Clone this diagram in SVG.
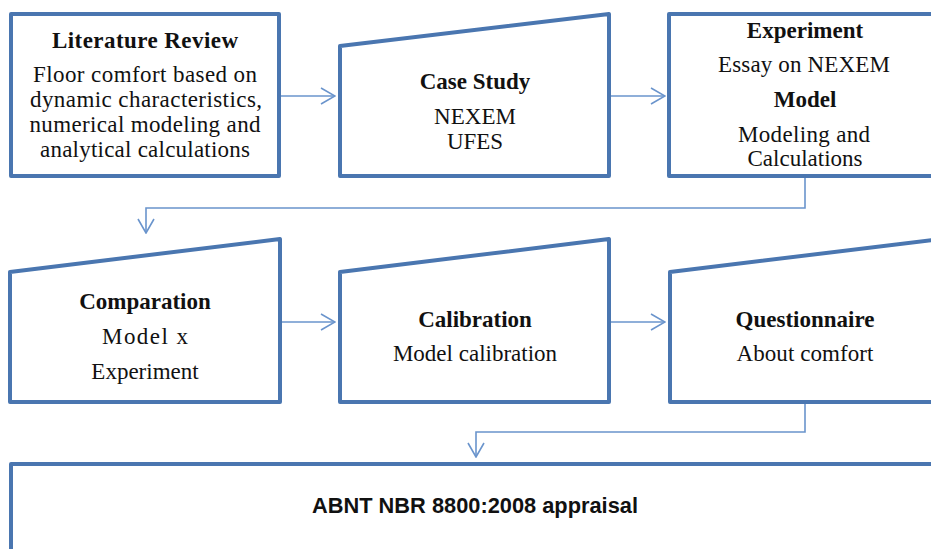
<svg xmlns="http://www.w3.org/2000/svg" width="931" height="549" viewBox="0 0 931 549">
  <style>
    .box { fill: #ffffff; stroke: #4a76b0; stroke-width: 4; stroke-linejoin: round; }
    .link { fill: none; stroke: #6a94cc; stroke-width: 1.6; }
    .t { font-family: "Liberation Serif", "Times New Roman", serif; font-size: 23px; fill: #111111; text-anchor: middle; }
    .b { font-weight: bold; }
    .s { font-family: "Liberation Sans", Arial, sans-serif; font-size: 21.5px; font-weight: bold; fill: #111111; text-anchor: middle; }
  </style>
  <defs>
    <marker id="chev" viewBox="0 0 16 18" refX="15" refY="9" markerWidth="16" markerHeight="18" markerUnits="userSpaceOnUse" orient="auto">
      <path d="M1,1 L15,9 L1,17" fill="none" stroke="#6a94cc" stroke-width="1.6"/>
    </marker>
  </defs>
  <rect width="931" height="549" fill="#ffffff"/>

  <g id="connectors">
    <line class="link" x1="281" y1="96" x2="335" y2="96" marker-end="url(#chev)"/>
    <line class="link" x1="611" y1="96" x2="665" y2="96" marker-end="url(#chev)"/>
    <polyline class="link" points="805,178 805,208 146,208 146,233" marker-end="url(#chev)"/>
    <line class="link" x1="281" y1="322" x2="335" y2="322" marker-end="url(#chev)"/>
    <line class="link" x1="611" y1="322" x2="665" y2="322" marker-end="url(#chev)"/>
    <polyline class="link" points="805,404 805,432 476,432 476,457" marker-end="url(#chev)"/>
  </g>

  <g id="literature-review">
    <rect class="box" x="11" y="14" width="268" height="162"/>
    <text class="t b" x="145" y="48" textLength="186" lengthAdjust="spacing">Literature Review</text>
    <text class="t" x="145" y="82" textLength="224" lengthAdjust="spacing">Floor comfort based on</text>
    <text class="t" x="146" y="107" textLength="232" lengthAdjust="spacing">dynamic characteristics,</text>
    <text class="t" x="145" y="132" textLength="231" lengthAdjust="spacing">numerical modeling and</text>
    <text class="t" x="145" y="157" textLength="210" lengthAdjust="spacing">analytical calculations</text>
  </g>

  <g id="case-study">
    <polygon class="box" points="340,46 609,14 609,176 340,176"/>
    <text class="t b" x="475" y="89">Case Study</text>
    <text class="t" x="475" y="124">NEXEM</text>
    <text class="t" x="475" y="149">UFES</text>
  </g>

  <g id="experiment-model">
    <rect class="box" x="669" y="14" width="272" height="162"/>
    <text class="t b" x="805" y="38">Experiment</text>
    <text class="t" x="804" y="72" textLength="172" lengthAdjust="spacing">Essay on NEXEM</text>
    <text class="t b" x="805" y="107">Model</text>
    <text class="t" x="804" y="142" textLength="132" lengthAdjust="spacing">Modeling and</text>
    <text class="t" x="805" y="166">Calculations</text>
  </g>

  <g id="comparation">
    <polygon class="box" points="10,272 280,239 280,402 10,402"/>
    <text class="t b" x="145" y="309">Comparation</text>
    <text class="t" x="145" y="344" textLength="86" lengthAdjust="spacing">Model  x</text>
    <text class="t" x="145" y="379">Experiment</text>
  </g>

  <g id="calibration">
    <polygon class="box" points="340,272 609,239 609,402 340,402"/>
    <text class="t b" x="475" y="327">Calibration</text>
    <text class="t" x="475" y="361">Model calibration</text>
  </g>

  <g id="questionnaire">
    <polygon class="box" points="670,272 941,239 941,402 670,402"/>
    <text class="t b" x="805" y="327">Questionnaire</text>
    <text class="t" x="805" y="361" textLength="137" lengthAdjust="spacing">About comfort</text>
  </g>

  <g id="nbr-appraisal">
    <rect class="box" x="11" y="464" width="940" height="120"/>
    <text class="s" x="475" y="513" textLength="326" lengthAdjust="spacingAndGlyphs">ABNT NBR 8800:2008 appraisal</text>
  </g>
</svg>
